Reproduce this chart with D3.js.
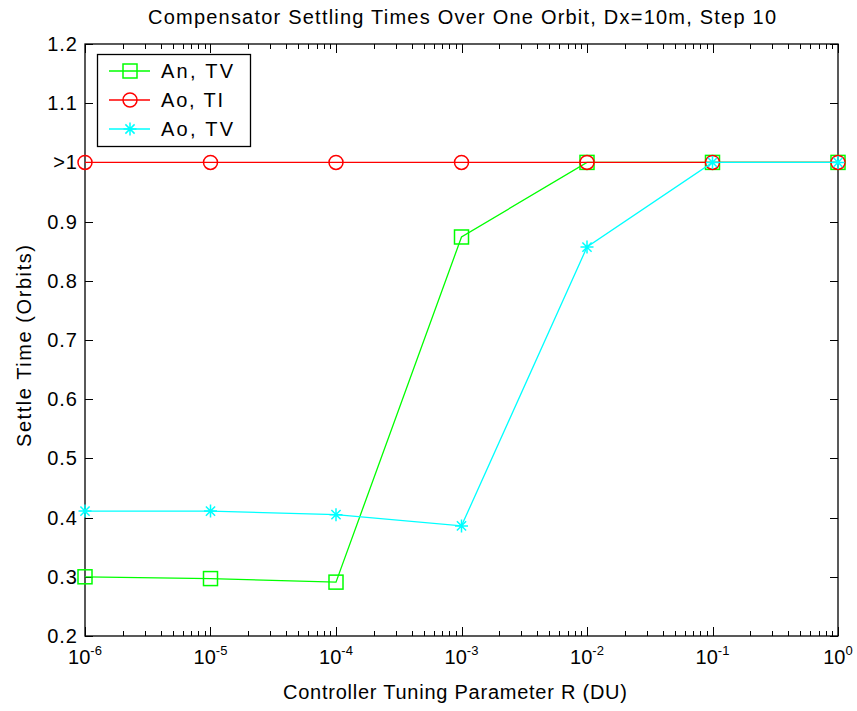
<!DOCTYPE html>
<html><head><meta charset="utf-8">
<script src="https://cdn.jsdelivr.net/npm/d3@7"></script>
<style>
body{margin:0;background:#fff;}
text{font-family:"Liberation Sans",Arial,sans-serif;fill:#000;}
</style></head>
<body><svg id="c" width="857" height="711"></svg>
<script>
const xValues = [1e-6, 1e-5, 1e-4, 1e-3, 1e-2, 1e-1, 1];
const seriesNames = ["An, TV", "Ao, TI", "Ao, TV"];
const anTV = [0.300, 0.297, 0.291, 0.874, 1.0, 1.0, 1.0];
const aoTI = [1.0, 1.0, 1.0, 1.0, 1.0, 1.0, 1.0];
const aoTV = [0.411, 0.411, 0.405, 0.386, 0.857, 1.0, 1.0];
const yTicks = [0.2, 0.3, 0.4, 0.5, 0.6, 0.7, 0.8, 0.9, 1.0, 1.1, 1.2];
const yTickLabels = ["0.2","0.3","0.4","0.5","0.6","0.7","0.8","0.9",">1","1.1","1.2"];
const xExponents = [-6, -5, -4, -3, -2, -1, 0];
const titleText = "Compensator Settling Times Over One Orbit, Dx=10m, Step 10";
const xLabelText = "Controller Tuning Parameter R (DU)";
const yLabelText = "Settle Time (Orbits)";

const svg = d3.select("#c");
const L = 85, R = 838, T = 44, B = 636;
const x = d3.scaleLog().domain([1e-6, 1]).range([L, R]);
const y = d3.scaleLinear().domain([0.2, 1.2]).range([B, T]);

// frame
svg.append("rect").attr("x", L).attr("y", T).attr("width", R - L).attr("height", B - T)
  .attr("fill", "#fff").attr("stroke", "#000").attr("stroke-width", 1.3);

const g = svg.append("g");
const minorTicks = [];
for (let e = -6; e < 0; e++) for (let m = 1; m <= 9; m++) minorTicks.push(m * Math.pow(10, e));
minorTicks.push(1);
minorTicks.forEach(v => {
  const major = Math.abs(Math.log10(v) - Math.round(Math.log10(v))) < 1e-9;
  const len = major ? 9 : 5;
  const px = Math.round(x(v)) + 0.5;
  g.append("line").attr("x1", px).attr("x2", px).attr("y1", B).attr("y2", B - len).attr("stroke", "#000");
  g.append("line").attr("x1", px).attr("x2", px).attr("y1", T).attr("y2", T + len).attr("stroke", "#000");
});
yTicks.forEach((v, i) => {
  const py = Math.round(y(v)) + 0.5;
  g.append("line").attr("x1", L).attr("x2", L + 8).attr("y1", py).attr("y2", py).attr("stroke", "#000");
  g.append("line").attr("x1", R).attr("x2", R - 8).attr("y1", py).attr("y2", py).attr("stroke", "#000");
  g.append("text").attr("x", L - 7).attr("y", y(v)).attr("dy", "0.35em").attr("text-anchor", "end")
    .attr("font-size", 20).attr("letter-spacing", 1).text(yTickLabels[i]);
});
xExponents.forEach(e => {
  const t = g.append("text").attr("x", x(Math.pow(10, e))).attr("y", B + 28)
    .attr("text-anchor", "middle").attr("font-size", 20);
  t.append("tspan").text("10");
  t.append("tspan").attr("font-size", 13).attr("dy", -9).text(e);
});

svg.append("text").attr("x", (L + R) / 2 + 0.5).attr("y", 24).attr("text-anchor", "middle")
  .attr("font-size", 20).attr("textLength", 628).attr("lengthAdjust", "spacing").text(titleText);
svg.append("text").attr("x", 455).attr("y", 699).attr("text-anchor", "middle")
  .attr("font-size", 20).attr("textLength", 344).attr("lengthAdjust", "spacing").text(xLabelText);
svg.append("text").attr("transform", `translate(31,346) rotate(-90)`).attr("text-anchor", "middle")
  .attr("font-size", 20).attr("textLength", 202).attr("lengthAdjust", "spacing").text(yLabelText);

function marker(sel, type, cx, cy, color) {
  if (type === "square") {
    sel.append("rect").attr("x", cx - 7).attr("y", cy - 7).attr("width", 14).attr("height", 14)
      .attr("fill", "none").attr("stroke", color).attr("stroke-width", 1.5);
  } else if (type === "circle") {
    sel.append("circle").attr("cx", cx).attr("cy", cy).attr("r", 7)
      .attr("fill", "none").attr("stroke", color).attr("stroke-width", 1.5);
  } else {
    const s = 6.5, d = 4.6;
    const p = `M${cx - s},${cy}L${cx + s},${cy}M${cx},${cy - s}L${cx},${cy + s}M${cx - d},${cy - d}L${cx + d},${cy + d}M${cx - d},${cy + d}L${cx + d},${cy - d}`;
    sel.append("path").attr("d", p).attr("stroke", color).attr("stroke-width", 1.5).attr("fill", "none");
  }
}

const series = [
  {name: seriesNames[0], vals: anTV, color: "#00ff00", m: "square", w: 72},
  {name: seriesNames[1], vals: aoTI, color: "#ff0000", m: "circle", w: 62},
  {name: seriesNames[2], vals: aoTV, color: "#00ffff", m: "star", w: 72}
];
const line = d3.line().x((d, i) => x(xValues[i])).y(d => y(d));
const pg = svg.append("g");
series.forEach(s => {
  pg.append("path").attr("d", line(s.vals)).attr("fill", "none").attr("stroke", s.color).attr("stroke-width", 1.3);
  s.vals.forEach((v, i) => marker(pg, s.m, x(xValues[i]), y(v), s.color));
});

const lg = svg.append("g");
lg.append("rect").attr("x", 97.5).attr("y", 54.5).attr("width", 153).attr("height", 92)
  .attr("fill", "#fff").attr("stroke", "#000").attr("stroke-width", 1.3);
series.forEach((s, i) => {
  const ly = 71 + i * 29;
  lg.append("line").attr("x1", 109).attr("x2", 150).attr("y1", ly).attr("y2", ly).attr("stroke", s.color).attr("stroke-width", 1.3);
  marker(lg, s.m, 130, ly, s.color);
  lg.append("text").attr("x", 161).attr("y", ly).attr("dy", "0.35em").attr("font-size", 20)
    .attr("textLength", s.w).attr("lengthAdjust", "spacing").text(s.name);
});
</script></body></html>
